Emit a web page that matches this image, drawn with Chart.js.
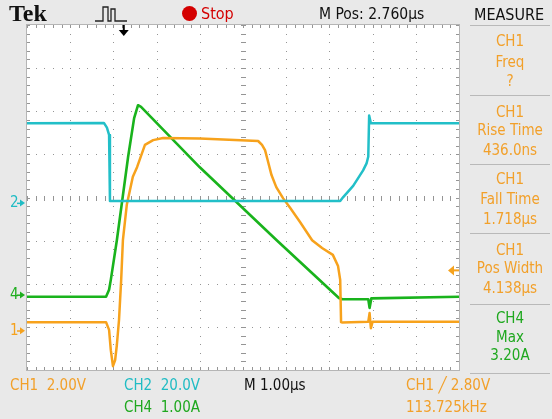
<!DOCTYPE html>
<html>
<head>
<meta charset="utf-8">
<script src="https://cdn.jsdelivr.net/npm/chart.js@4.4.1/dist/chart.umd.min.js"></script>
<style>
  html,body{margin:0;padding:0;}
  body{width:552px;height:419px;background:#e9e9e9;position:relative;overflow:hidden;
       font-family:"DejaVu Sans Condensed","Liberation Sans Narrow","Roboto Condensed","DejaVu Sans",sans-serif;}
  #c{position:absolute;left:0;top:0;}
  .t{position:absolute;white-space:pre;font-size:15px;line-height:1;transform:translateY(-50%);}
  .m{position:absolute;white-space:pre;font-size:15px;line-height:1;transform:translate(-50%,-50%);color:#f2a02a;}
  .sep{position:absolute;left:470px;width:80px;height:1px;background:#b9b9b9;}
  .or{color:#f2a02a;} .cy{color:#20bcc4;} .gr{color:#1fa81f;} .bk{color:#111;}
</style>
</head>
<body>
<canvas id="c" width="552" height="419"></canvas>

<!-- header -->
<div class="t bk" style="left:9px;top:13px;font-family:'Liberation Serif','DejaVu Serif',serif;font-weight:bold;font-size:24px;">Tek</div>
<svg style="position:absolute;left:94px;top:4px" width="34" height="20">
  <polyline points="1,17 9,17 9,3 14,3 14,17 17,17 17,5 21,5 21,17 33,17" fill="none" stroke="#222" stroke-width="1.3" stroke-dasharray="none"/>
</svg>
<div style="position:absolute;left:182px;top:6px;width:15px;height:15px;border-radius:50%;background:#d40000;"></div>
<div class="t" style="left:201px;top:14px;color:#d40000;font-size:16px;">Stop</div>
<div class="t bk" style="left:319px;top:15px;font-size:15.5px;">M Pos: 2.760µs</div>
<div class="t bk" style="left:474px;top:15px;font-size:16px;">MEASURE</div>

<!-- measurement panel -->
<div class="sep" style="top:25px"></div>
<div class="m" style="left:510px;top:41px">CH1</div>
<div class="m" style="left:510px;top:62px">Freq</div>
<div class="m" style="left:510px;top:81px">?</div>
<div class="sep" style="top:95px"></div>
<div class="m" style="left:510px;top:112px">CH1</div>
<div class="m" style="left:510px;top:130px">Rise Time</div>
<div class="m" style="left:510px;top:150px">436.0ns</div>
<div class="sep" style="top:164px"></div>
<div class="m" style="left:510px;top:179px">CH1</div>
<div class="m" style="left:510px;top:199px">Fall Time</div>
<div class="m" style="left:510px;top:219px">1.718µs</div>
<div class="sep" style="top:233px"></div>
<div class="m" style="left:510px;top:250px">CH1</div>
<div class="m" style="left:510px;top:268px">Pos Width</div>
<div class="m" style="left:510px;top:288px">4.138µs</div>
<div class="sep" style="top:304px"></div>
<div class="m gr" style="left:510px;top:318px">CH4</div>
<div class="m gr" style="left:510px;top:337px">Max</div>
<div class="m gr" style="left:510px;top:355px">3.20A</div>
<div class="sep" style="top:373px"></div>

<!-- footer -->
<div class="t or" style="left:10px;top:385px">CH1  2.00V</div>
<div class="t cy" style="left:124px;top:385px">CH2  20.0V</div>
<div class="t gr" style="left:124px;top:407px">CH4  1.00A</div>
<div class="t bk" style="left:244px;top:385px">M 1.00µs</div>
<div class="t or" style="left:406px;top:385px">CH1 ╱ 2.80V</div>
<div class="t or" style="left:406px;top:407px">113.725kHz</div>

<script>
// ---- data (time in µs = screen divisions, amplitude in screen divisions from bottom) ----
const ch1Time  = [0, 1.83, 1.90, 1.94, 1.99, 2.04, 2.08, 2.13, 2.18, 2.22, 2.31, 2.45, 2.55, 2.73, 2.92, 3.15, 4.00, 5.35, 5.44, 5.51, 5.57, 5.66, 5.77, 5.93, 6.09, 6.32, 6.60, 6.83, 7.08, 7.20, 7.25, 7.27, 7.30, 7.90, 7.93, 7.96, 8.00, 10];
const ch1Level = [1.11, 1.11, 0.93, 0.46, 0.09, 0.23, 0.58, 1.16, 2.09, 3.01, 3.83, 4.48, 4.71, 5.22, 5.33, 5.38, 5.37, 5.31, 5.22, 5.10, 4.87, 4.52, 4.24, 3.98, 3.76, 3.43, 3.01, 2.83, 2.67, 2.41, 2.09, 1.11, 1.10, 1.12, 1.32, 0.97, 1.12, 1.12];

const ch2Time  = [0, 1.78, 1.85, 1.90, 1.92, 7.25, 7.32, 7.55, 7.78, 7.86, 7.90, 7.92, 7.96, 10];
const ch2Level = [5.72, 5.73, 5.62, 5.45, 3.92, 3.92, 4.01, 4.27, 4.63, 4.79, 4.95, 5.90, 5.72, 5.72];

const ch4Time  = [0, 1.83, 1.90, 1.94, 2.08, 2.34, 2.48, 2.57, 2.64, 4.00, 5.78, 7.22, 7.30, 7.90, 7.93, 7.97, 10];
const ch4Level = [1.70, 1.70, 1.86, 2.09, 3.01, 4.94, 5.84, 6.14, 6.10, 4.70, 3.01, 1.67, 1.64, 1.64, 1.44, 1.66, 1.70];

// channel ground reference markers (divisions) and trigger
const markerLabels = ['2', '4', '1'];
const markerLevels = [3.87, 1.74, 0.91];
const markerColors = ['#20bcc4', '#1fae1f', '#f5a21e'];
const triggerTime  = 2.24;   // µs (division)
const triggerLevel = 2.31;   // division (2.80 V above CH1 ground)

const toPts = (t, v) => t.map((x, i) => ({x, y: v[i]}));

const gridPlugin = {
  id: 'scopeGrid',
  beforeDatasetsDraw(chart) {
    const {ctx, chartArea: a, scales: {x, y}} = chart;
    ctx.save();
    ctx.fillStyle = '#ffffff';
    ctx.fillRect(a.left, a.top, a.right - a.left, a.bottom - a.top);
    ctx.fillStyle = '#959595';
    // dotted major lines
    for (let i = 1; i < 10; i++) {
      if (i === 5) continue;
      const px = Math.round(x.getPixelForValue(i));
      for (let j = 0; j <= 40; j++) ctx.fillRect(px, Math.round(y.getPixelForValue(j / 5)), 1, 1);
    }
    for (let j = 1; j < 8; j++) {
      if (j === 4) continue;
      const py = Math.round(y.getPixelForValue(j));
      for (let i = 0; i <= 50; i++) ctx.fillRect(Math.round(x.getPixelForValue(i / 5)), py, 1, 1);
    }
    // center crosshair tick marks
    const cx = Math.round(x.getPixelForValue(5)), cy = Math.round(y.getPixelForValue(4));
    for (let j = 0; j <= 40; j++) ctx.fillRect(cx - 2, Math.round(y.getPixelForValue(j / 5)), 5, 1);
    for (let i = 0; i <= 50; i++) ctx.fillRect(Math.round(x.getPixelForValue(i / 5)), cy - 2, 1, 5);
    // border ticks
    for (let i = 0; i <= 50; i++) {
      const px = Math.round(x.getPixelForValue(i / 5));
      ctx.fillRect(px, a.top, 1, 3);
      ctx.fillRect(px, a.bottom - 3, 1, 3);
    }
    for (let j = 0; j <= 40; j++) {
      const py = Math.round(y.getPixelForValue(j / 5));
      ctx.fillRect(a.left, py, 3, 1);
      ctx.fillRect(a.right - 3, py, 3, 1);
    }
    ctx.strokeStyle = '#b5b5b5';
    ctx.lineWidth = 1;
    ctx.strokeRect(a.left - 0.5, a.top - 0.5, a.right - a.left + 1, a.bottom - a.top + 1);
    ctx.restore();
  },
  afterDraw(chart) {
    const {ctx, chartArea: a, scales: {x, y}} = chart;
    ctx.save();
    // ground markers
    ctx.font = '15px "DejaVu Sans Condensed","DejaVu Sans",sans-serif';
    ctx.textBaseline = 'middle';
    markerLabels.forEach((lab, k) => {
      const py = y.getPixelForValue(markerLevels[k]);
      ctx.fillStyle = markerColors[k];
      ctx.textAlign = 'left';
      ctx.fillText(lab, 10, py);
      ctx.beginPath();
      ctx.moveTo(a.left - 2, py);
      ctx.lineTo(a.left - 7, py - 3.5);
      ctx.lineTo(a.left - 7, py + 3.5);
      ctx.closePath();
      ctx.fill();
      ctx.fillRect(a.left - 10, py - 0.5, 4, 1.5);
    });
    // trigger level arrow (right)
    const ty = y.getPixelForValue(triggerLevel);
    ctx.fillStyle = '#f5a21e';
    ctx.beginPath();
    ctx.moveTo(a.right - 11, ty);
    ctx.lineTo(a.right - 5, ty - 5);
    ctx.lineTo(a.right - 5, ty + 5);
    ctx.closePath();
    ctx.fill();
    ctx.fillRect(a.right - 6, ty - 1, 6, 2);
    // trigger position arrow (top)
    const tx = x.getPixelForValue(triggerTime);
    ctx.fillStyle = '#000';
    ctx.fillRect(tx - 1, a.top, 2, 6);
    ctx.beginPath();
    ctx.moveTo(tx - 5, a.top + 5);
    ctx.lineTo(tx + 5, a.top + 5);
    ctx.lineTo(tx, a.top + 11);
    ctx.closePath();
    ctx.fill();
    ctx.restore();
  }
};

new Chart(document.getElementById('c'), {
  type: 'line',
  data: {
    datasets: [
      {label: 'CH2', data: toPts(ch2Time, ch2Level), borderColor: '#22bfc8', borderWidth: 2.5},
      {label: 'CH1', data: toPts(ch1Time, ch1Level), borderColor: '#f7a21c', borderWidth: 2.5},
      {label: 'CH4', data: toPts(ch4Time, ch4Level), borderColor: '#19b31c', borderWidth: 2.6}
    ]
  },
  options: {
    responsive: false,
    animation: false,
    layout: {padding: {left: 27, right: 93, top: 25, bottom: 49}},
    scales: {
      x: {type: 'linear', min: 0, max: 10, display: false},
      y: {type: 'linear', min: 0, max: 8, display: false}
    },
    elements: {point: {radius: 0}, line: {tension: 0, borderJoinStyle: 'round'}},
    plugins: {legend: {display: false}, tooltip: {enabled: false}}
  },
  plugins: [gridPlugin]
});
</script>
</body>
</html>
